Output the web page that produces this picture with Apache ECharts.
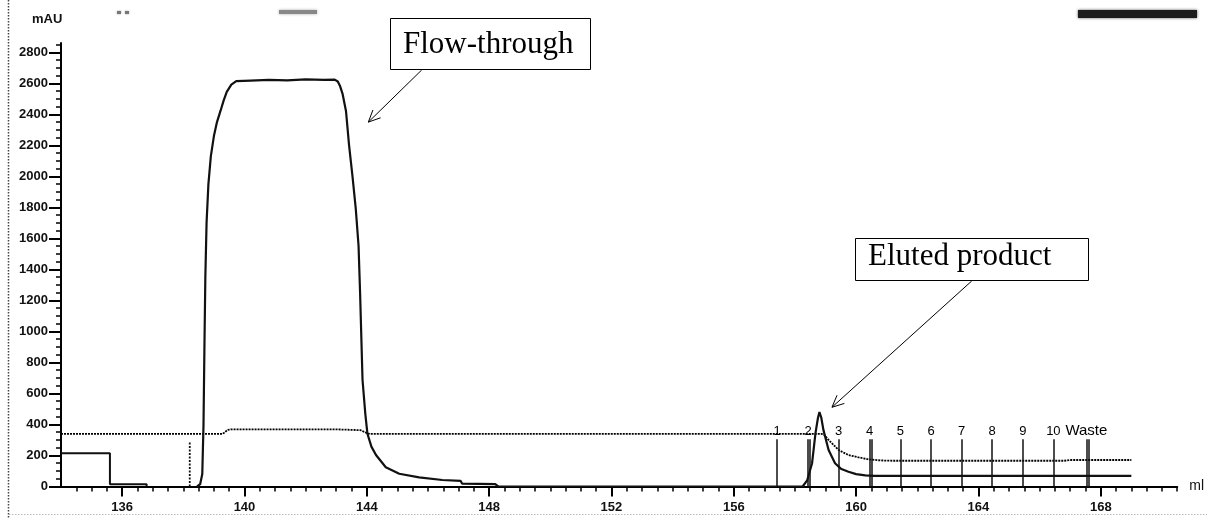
<!DOCTYPE html>
<html>
<head>
<meta charset="utf-8">
<script src="https://cdn.jsdelivr.net/npm/echarts@6/dist/echarts.min.js"></script>
<style>
html, body { margin: 0; padding: 0; background: #fff; }
#chart { width: 1207px; height: 518px; }
</style>
</head>
<body>
<div id="chart"></div>
<script>
// UV absorbance trace: retention volume (ml) and absorbance (mAU)
const uvVolume = [138.45, 138.55, 138.62, 138.66, 138.69, 138.72, 138.76, 138.82, 138.90, 139.00,
  139.10, 139.22, 139.32, 139.42, 139.57, 139.73, 140.20, 140.80, 141.40, 142.00,
  142.60, 142.95, 143.05, 143.12, 143.21, 143.32, 143.42, 143.53, 143.64, 143.73,
  143.78, 143.86, 143.95, 144.02, 144.15, 144.30, 144.62, 145.06, 145.71, 146.47,
  147.07, 147.12, 148.20, 148.30, 158.25, 158.40, 158.56, 158.67, 158.75, 158.80,
  158.86, 158.93, 159.10, 159.31, 159.50, 159.75, 160.00, 160.30, 160.60, 169.00];
const uvAbs = [0, 15, 80, 400, 900, 1350, 1700, 1950, 2130, 2260,
  2350, 2425, 2490, 2545, 2592, 2614, 2618, 2622, 2619, 2625,
  2622, 2624, 2612, 2585, 2530, 2420, 2200, 2003, 1788, 1551,
  1250, 687, 470, 340, 257, 203, 124, 82, 59, 42,
  36, 18, 15, 0, 0, 40, 150, 343, 440, 480,
  445, 365, 235, 150, 115, 95, 80, 72, 68, 68];

// Dotted trace (second detector channel)
const dotVolume = [134.00, 139.28, 139.36, 139.44, 139.55, 142.88, 143.40, 143.80, 143.92, 144.02,
  144.12, 158.85, 158.95, 159.10, 159.43, 159.75, 160.08, 160.40, 160.80, 161.20,
  166.80, 167.00, 169.00];
const dotValue = [339, 339, 350, 364, 369, 369, 366, 363, 352, 342,
  339, 340, 335, 300, 235, 203, 188, 175, 168, 166,
  166, 171, 171];

// Sample-load step trace
const stepVolume = [134.00, 135.60, 135.60, 136.80, 136.80];
const stepValue = [215, 215, 14, 14, 0];

// Injection mark
const injectVolume = 138.21;
const injectHeight = 290;

// Fraction marks
const fractionVolume = [157.42, 158.43, 159.43, 160.44, 161.45, 162.45, 163.45, 164.45, 165.45, 166.45, 167.53];
const fractionName = ['1', '2', '3', '4', '5', '6', '7', '8', '9', '10', 'Waste'];
const fractionDouble = [false, true, false, true, false, false, false, false, false, false, true];
const fractionHeight = 305;

// Axis tick labels
const xTickLabels = [136, 140, 144, 148, 152, 156, 160, 164, 168];
const yTickLabels = [0, 200, 400, 600, 800, 1000, 1200, 1400, 1600, 1800, 2000, 2200, 2400, 2600, 2800];

const X_MIN = 134, X_MAX = 170.5, Y_MIN = 0, Y_MAX = 2860;

const xMinorTicks = [];
for (let i = 1; i <= (X_MAX - X_MIN) * 2; i++) xMinorTicks.push(X_MIN + i * 0.5);
const yMinorTicks = [];
for (let i = 0; i <= 57; i++) yMinorTicks.push(i * 50);

const zip = (a, b) => a.map((v, i) => [v, b[i]]);

const axisFont = {
  fontFamily: '"Liberation Sans", Arial, sans-serif',
  fontSize: 13,
  fontWeight: 'bold',
  color: '#111'
};
const plain = (v) => String(v);

const labelFont = '"Liberation Sans", Arial, sans-serif';

// Fraction marker lines (two close strokes for double marks)
const fractionLines = [];
fractionVolume.forEach((v, i) => {
  const wide = fractionName[i].length > 2;
  fractionLines.push([
    { coord: [v, 0], name: fractionName[i], label: { fontSize: wide ? 15 : 13 } },
    { coord: [v, fractionHeight] }
  ]);
  if (fractionDouble[i]) {
    fractionLines.push([
      { coord: [v + 0.07, 0], name: '' },
      { coord: [v + 0.07, fractionHeight] }
    ]);
  }
});

const chart = echarts.init(document.getElementById('chart'), null, { renderer: 'canvas' });

chart.setOption({
  animation: false,
  backgroundColor: '#ffffff',
  grid: { left: 61, right: 27, top: 43, bottom: 31.5, containLabel: false },
  xAxis: [
    {
      type: 'value', min: X_MIN, max: X_MAX, position: 'bottom',
      axisLine: { show: true, onZero: false, lineStyle: { color: '#000', width: 2 } },
      axisTick: { show: true, length: 10, customValues: xTickLabels, lineStyle: { color: '#000', width: 2 } },
      axisLabel: Object.assign({ show: true, customValues: xTickLabels, margin: 14, formatter: plain }, axisFont),
      splitLine: { show: false },
      name: 'ml', nameLocation: 'end', nameGap: 12,
      nameTextStyle: { fontFamily: labelFont, fontSize: 14, color: '#111', verticalAlign: 'middle' }
    },
    {
      type: 'value', min: X_MIN, max: X_MAX, position: 'bottom',
      axisLine: { show: false, onZero: false },
      axisTick: { show: true, length: 5, customValues: xMinorTicks, lineStyle: { color: '#000', width: 1.5 } },
      axisLabel: { show: false },
      splitLine: { show: false }
    }
  ],
  yAxis: [
    {
      type: 'value', min: Y_MIN, max: Y_MAX, position: 'left',
      axisLine: { show: true, onZero: false, lineStyle: { color: '#000', width: 2 } },
      axisTick: { show: true, length: 12, customValues: yTickLabels, lineStyle: { color: '#000', width: 2 } },
      axisLabel: Object.assign({ show: true, customValues: yTickLabels, margin: 13, formatter: plain }, axisFont),
      splitLine: { show: false }
    },
    {
      type: 'value', min: Y_MIN, max: Y_MAX, position: 'left',
      axisLine: { show: false, onZero: false },
      axisTick: { show: true, length: 5, customValues: yMinorTicks, lineStyle: { color: '#000', width: 1.5 } },
      axisLabel: { show: false },
      splitLine: { show: false }
    }
  ],
  series: [
    {
      name: 'step', type: 'line', xAxisIndex: 0, yAxisIndex: 0,
      data: zip(stepVolume, stepValue), showSymbol: false, silent: true,
      lineStyle: { color: '#111', width: 2 }
    },
    {
      name: 'inject', type: 'line', xAxisIndex: 0, yAxisIndex: 0,
      data: [[injectVolume, 0], [injectVolume, injectHeight]], showSymbol: false, silent: true,
      lineStyle: { color: '#111', width: 1.8, type: [2, 1.5] }
    },
    {
      name: 'dotted', type: 'line', xAxisIndex: 0, yAxisIndex: 0,
      data: zip(dotVolume, dotValue), showSymbol: false, silent: true,
      lineStyle: { color: '#000', width: 1.8, type: [2, 1] }
    },
    {
      name: 'UV', type: 'line', xAxisIndex: 0, yAxisIndex: 0,
      data: zip(uvVolume, uvAbs), showSymbol: false, silent: true,
      lineStyle: { color: '#111', width: 2.2 },
      markLine: {
        silent: true, symbol: ['none', 'none'], animation: false,
        lineStyle: { color: '#111', width: 1.5, type: 'solid' },
        label: {
          show: true, position: 'end', distance: 1, formatter: '{b}',
          fontFamily: labelFont, fontSize: 13, color: '#000'
        },
        emphasis: { disabled: true },
        data: fractionLines
      }
    }
  ]
});

// Annotation boxes with arrows pointing at the trace
function arrowGraphics(start, tip) {
  const dx = tip[0] - start[0], dy = tip[1] - start[1];
  const len = Math.hypot(dx, dy);
  const ux = dx / len, uy = dy / len;
  const head = 13, ang = 25 * Math.PI / 180;
  const rot = (a) => [ux * Math.cos(a) - uy * Math.sin(a), ux * Math.sin(a) + uy * Math.cos(a)];
  const r1 = rot(ang), r2 = rot(-ang);
  const style = { stroke: '#000', lineWidth: 1, fill: null };
  return [
    { type: 'line', shape: { x1: start[0], y1: start[1], x2: tip[0], y2: tip[1] }, style: style, silent: true },
    { type: 'polyline', shape: { points: [[tip[0] - head * r1[0], tip[1] - head * r1[1]], tip, [tip[0] - head * r2[0], tip[1] - head * r2[1]]] }, style: style, silent: true }
  ];
}

const flowTip = chart.convertToPixel({ xAxisIndex: 0, yAxisIndex: 0 }, [144.05, 2350]);
const elutedTip = chart.convertToPixel({ xAxisIndex: 0, yAxisIndex: 0 }, [159.21, 511]);
const serif = '"Liberation Serif", "Times New Roman", serif';

const graphics = [
  // page frame remnants
  { type: 'line', shape: { x1: 8.5, y1: 0, x2: 8.5, y2: 518 }, style: { stroke: '#444', lineWidth: 1.5, lineDash: [1.5, 1.5] }, silent: true },
  { type: 'line', shape: { x1: 9, y1: 514.5, x2: 1207, y2: 514.5 }, style: { stroke: '#bbb', lineWidth: 1, lineDash: [1.5, 1.5] }, silent: true },
  // smudged header remnants
  { type: 'rect', shape: { x: 1078, y: 10, width: 119, height: 8 }, style: { fill: '#1c1c1c', shadowBlur: 3, shadowColor: '#555' }, silent: true },
  { type: 'rect', shape: { x: 117, y: 11, width: 4, height: 3 }, style: { fill: '#777', shadowBlur: 2, shadowColor: '#999' }, silent: true },
  { type: 'rect', shape: { x: 125, y: 11, width: 4, height: 3 }, style: { fill: '#777', shadowBlur: 2, shadowColor: '#999' }, silent: true },
  { type: 'rect', shape: { x: 279, y: 10, width: 38, height: 4 }, style: { fill: '#888', shadowBlur: 3, shadowColor: '#aaa' }, silent: true },
  // axis unit
  { type: 'text', left: 32, top: 13, style: { text: 'mAU', font: 'bold 13px "Liberation Sans", Arial, sans-serif', fill: '#111' }, silent: true },
  // Flow-through callout
  { type: 'rect', shape: { x: 390.5, y: 18.5, width: 200, height: 51 }, style: { fill: '#fff', stroke: '#000', lineWidth: 1 }, silent: true },
  { type: 'text', x: 403, y: 44.5, style: { text: 'Flow-through', font: '31px ' + serif, fill: '#000', textVerticalAlign: 'middle', verticalAlign: 'middle' }, silent: true },
  // Eluted product callout
  { type: 'rect', shape: { x: 855.5, y: 238.5, width: 233, height: 42 }, style: { fill: '#fff', stroke: '#000', lineWidth: 1 }, silent: true },
  { type: 'text', x: 868, y: 256.5, style: { text: 'Eluted product', font: '31px ' + serif, fill: '#000', textVerticalAlign: 'middle', verticalAlign: 'middle' }, silent: true }
].concat(arrowGraphics([421.7, 70], flowTip), arrowGraphics([971.7, 281], elutedTip));

chart.setOption({ graphic: graphics });
</script>
</body>
</html>
